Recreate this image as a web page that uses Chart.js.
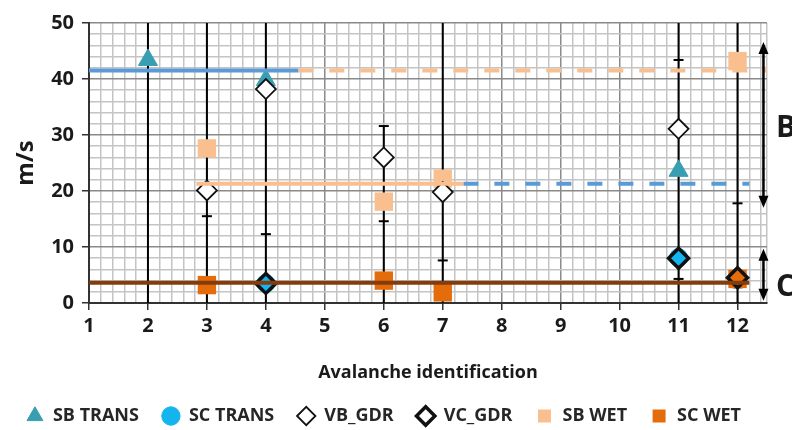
<!DOCTYPE html>
<html>
<head>
<meta charset="utf-8">
<script src="https://cdn.jsdelivr.net/npm/chart.js@4.4.1/dist/chart.umd.min.js"></script>
<style>
  html, body { margin: 0; padding: 0; background: #fff; }
</style>
</head>
<body>
<canvas id="actualChart" width="792" height="430"></canvas>
<script>
	// avalanche ids on the x axis
	var ids = [1, 2, 3, 4, 5, 6, 7, 8, 9, 10, 11, 12];
	var yTicks = [0, 10, 20, 30, 40, 50];

	// marker series (x = avalanche id, y = m/s)
	var sbTransX = [2, 4, 11],            sbTransY = [43.4, 39.8, 23.6];
	var scTransX = [4, 11],               scTransY = [3.5, 8.1];
	var vbGdrX   = [3, 4, 6, 7, 11],      vbGdrY   = [20.1, 38.2, 26.0, 19.8, 31.1];
	var vcGdrX   = [4, 11, 12],           vcGdrY   = [3.5, 8.0, 4.5];
	var sbWetX   = [3, 6, 7, 12],         sbWetY   = [27.6, 18.1, 22.2, 43.2];
	var scWetX   = [3, 6, 7, 12],         scWetY   = [3.2, 4.0, 1.9, 4.3];

	// error bars (stems go off the axis where the range is bigger)
	var errX  = [2, 3, 4, 6, 7, 11, 12];
	var errLo = [-1, -1, -1, -1, -1, -1, -1];
	var errHi = [55, 55, 55, 31.6, 55, 55, 55];
	var capX  = [3, 4, 6, 6, 7, 11, 11, 12, 12];
	var capY  = [15.5, 12.3, 31.6, 14.6, 7.6, 43.4, 4.3, 17.8, 2.8];

	// mean lines
	var meanBX = [1, 4.55],     meanBY = 41.5;   // blue solid
	var meanBdX = [4.55, 12.5];                   // orange dashed, same level
	var meanWX = [2.82, 7.35],  meanWY = 21.3;   // light orange solid
	var meanWdX = [7.35, 12.2];                   // blue dashed
	var meanCX = [1, 12.2],     meanCY = 3.6;    // brown

	// range arrows on the right
	var arrowX = 12.44;
	var arrowLo = [17.0, 0.4], arrowHi = [46.6, 9.7];
	var arrowText = ['B', 'C'], arrowTextY = [31.2, 2.7];

	var FONT = '"Open Sans", Lato, sans-serif';
	var TXT = '#1a1a1a';

	function pts(xs, ys){
		return xs.map((x, i) => ({x: x, y: Array.isArray(ys) ? ys[i] : ys}));
	}

	var stems = [];
	errX.forEach((x, i) => {
		stems.push({x: x, y: errLo[i]}, {x: x, y: errHi[i]}, {x: x, y: null});
	});

	function isInt(v){ return Math.abs(v - Math.round(v)) < 1e-6; }

	var arrows = {
		id: 'arrows',
		afterDatasetsDraw(chart){
			const ctx = chart.ctx, sx = chart.scales.x, sy = chart.scales.y;
			const px = sx.getPixelForValue(arrowX);
			ctx.save();
			ctx.strokeStyle = '#000';
			ctx.fillStyle = '#000';
			ctx.lineWidth = 2.5;
			arrowLo.forEach((lo, i) => {
				const top = sy.getPixelForValue(arrowHi[i]), bot = sy.getPixelForValue(lo);
				ctx.beginPath();
				ctx.moveTo(px, top + 8);
				ctx.lineTo(px, bot - 8);
				ctx.stroke();
				ctx.beginPath();
				ctx.moveTo(px, top); ctx.lineTo(px - 5, top + 12); ctx.lineTo(px + 5, top + 12);
				ctx.closePath(); ctx.fill();
				ctx.beginPath();
				ctx.moveTo(px, bot); ctx.lineTo(px - 5, bot - 12); ctx.lineTo(px + 5, bot - 12);
				ctx.closePath(); ctx.fill();
			});
			ctx.font = 'bold 30px ' + FONT;
			ctx.textAlign = 'left';
			ctx.textBaseline = 'middle';
			ctx.fillStyle = TXT;
			arrowText.forEach((t, i) => {
				ctx.fillText(t, sx.right + 9, sy.getPixelForValue(arrowTextY[i]));
			});
			ctx.restore();
		}
	};

	var minorX = [], minorY = [];
	for (let i = 0; i <= 57; i++) minorX.push(1 + i * 0.2);
	minorX.push(12.5);
	for (let i = 0; i <= 25; i++) minorY.push(i * 2);

	var data = {
		datasets: [
			{label: 'SB TRANS', data: pts(sbTransX, sbTransY), pointStyle: 'triangle', pointRadius: 11,
				backgroundColor: '#3a9eb2', borderColor: '#3a9eb2', borderWidth: 1, order: 12},
			{label: 'SC TRANS', data: pts(scTransX, scTransY), pointStyle: 'circle', pointRadius: 9,
				backgroundColor: '#14b4ee', borderColor: '#14b4ee', borderWidth: 1, order: 13},
			{label: 'VB_GDR', data: pts(vbGdrX, vbGdrY), pointStyle: 'rectRot', pointRadius: 10,
				backgroundColor: '#fff', borderColor: '#111', borderWidth: 1.8, order: 11},
			{label: 'VC_GDR', data: pts(vcGdrX, vcGdrY), pointStyle: 'rectRot', pointRadius: 10,
				backgroundColor: 'rgba(0,0,0,0)', borderColor: '#111', borderWidth: 3.5, order: 10},
			{label: 'SB WET', data: pts(sbWetX, sbWetY), pointStyle: 'rect', pointRadius: 13,
				backgroundColor: '#f9bf8f', borderColor: '#f9bf8f', borderWidth: 0, order: 15},
			{label: 'SC WET', data: pts(scWetX, scWetY), pointStyle: 'rect', pointRadius: 13,
				backgroundColor: '#e46c0a', borderColor: '#e46c0a', borderWidth: 0, order: 14},

			{label: 'err', data: stems, showLine: true, pointRadius: 0, borderColor: '#000', borderWidth: 2, order: 20},
			{label: 'cap', data: pts(capX, capY), pointStyle: 'line', pointRadius: 5, borderColor: '#000', borderWidth: 2, order: 19},

			{label: 'mB', data: pts(meanBX, meanBY), showLine: true, pointRadius: 0, borderColor: '#5b9bd5', borderWidth: 4, order: 3},
			{label: 'mBd', data: pts(meanBdX, meanBY), showLine: true, pointRadius: 0, borderColor: '#f9bf8f', borderWidth: 4, borderDash: [15, 16], order: 3},
			{label: 'mW', data: pts(meanWX, meanWY), showLine: true, pointRadius: 0, borderColor: '#f9bf8f', borderWidth: 4, order: 3},
			{label: 'mWd', data: pts(meanWdX, meanWY), showLine: true, pointRadius: 0, borderColor: '#5b9bd5', borderWidth: 4, borderDash: [15, 16], order: 3},
			{label: 'mC', data: pts(meanCX, meanCY), showLine: true, pointRadius: 0, borderColor: '#843c0c', borderWidth: 4, order: 2}
		]
	};

	var options = {
		responsive: false,
		animation: false,
		devicePixelRatio: 1,
		events: [],
		layout: {padding: {left: 0, right: 25, top: 23, bottom: -5}},
		plugins: {
			tooltip: {enabled: false},
			legend: {
				position: 'bottom',
				labels: {
					usePointStyle: true,
					boxHeight: 13,
					padding: 23,
					color: '#262626',
					font: {family: FONT, size: 18, weight: 'bold'},
					filter: item => item.datasetIndex < 6,
					sort: (a, b) => a.datasetIndex - b.datasetIndex
				}
			}
		},
		scales: {
			x: {
				type: 'linear', position: 'bottom', min: 1, max: 12.5,
				afterBuildTicks: s => { s.ticks = ids.map(v => ({value: v})); },
				ticks: {color: TXT, padding: 4, font: {family: FONT, size: 20, weight: 'bold'}},
				grid: {color: '#8a8a8a', lineWidth: 1.5, tickLength: 7, tickColor: '#333', tickWidth: 1.5},
				border: {color: '#333', width: 2},
				title: {display: true, text: 'Avalanche identification', color: TXT,
					font: {family: FONT, size: 18, weight: 'bold'}, padding: {top: 0, bottom: 0}},
				afterFit: s => { s.height = 81; }
			},
			x2: {
				type: 'linear', position: 'bottom', min: 1, max: 12.5,
				afterBuildTicks: s => { s.ticks = minorX.map(v => ({value: v})); },
				ticks: {display: false},
				grid: {color: c => (c.tick && isInt(c.tick.value)) ? 'rgba(0,0,0,0)' : '#c4c4c4', lineWidth: 1.5, drawTicks: false},
				border: {display: false},
				afterFit: s => { s.height = 0; }
			},
			y: {
				type: 'linear', position: 'left', min: 0, max: 50,
				afterBuildTicks: s => { s.ticks = yTicks.map(v => ({value: v})); },
				ticks: {color: TXT, padding: 8, font: {family: FONT, size: 20, weight: 'bold'}},
				grid: {color: '#8a8a8a', lineWidth: 1.5, tickLength: 7, tickColor: '#333', tickWidth: 1.5},
				border: {color: '#333', width: 2},
				title: {display: true, text: 'm/s', color: TXT,
					font: {family: FONT, size: 24, weight: 'bold'}, padding: {top: 12, bottom: 0}},
				afterFit: s => { s.width = 89; }
			},
			y2: {
				type: 'linear', position: 'left', min: 0, max: 50,
				afterBuildTicks: s => { s.ticks = minorY.map(v => ({value: v})); },
				ticks: {display: false},
				grid: {color: c => (c.tick && c.tick.value % 10 === 0) ? 'rgba(0,0,0,0)' : '#c4c4c4', lineWidth: 1.5, drawTicks: false},
				border: {display: false},
				afterFit: s => { s.width = 0; }
			}
		}
	};

	var cxc = document.getElementById('actualChart');
	var myChart = new Chart(cxc, {type: 'scatter', data: data, options: options, plugins: [arrows]});
</script>
</body>
</html>
